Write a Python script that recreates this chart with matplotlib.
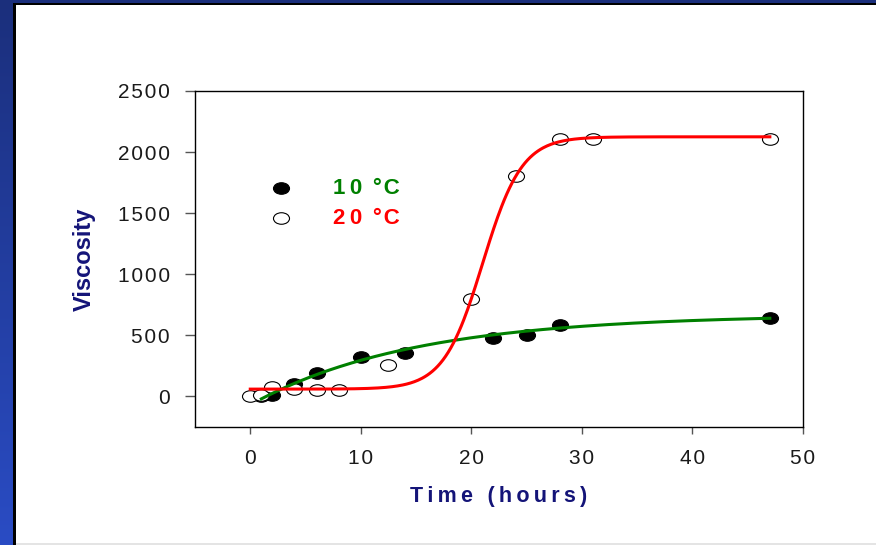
import numpy as np
import matplotlib
matplotlib.use("Agg")
import matplotlib.pyplot as plt
from matplotlib.path import Path
from matplotlib.transforms import Affine2D
from matplotlib.ticker import FuncFormatter

# Viscosity readings (hours, viscosity)
time_10c = [1, 2, 4, 6, 10, 14, 22, 25, 28, 47]
visc_10c = [0, 14, 100, 190, 325, 355, 480, 505, 585, 640]

time_20c = [0, 1, 2, 4, 6, 8, 12.5, 20, 24, 28, 31, 47]
visc_20c = [0, 12, 75, 60, 50, 50, 255, 800, 1805, 2110, 2110, 2110]

# fitted curves: exponential rise (10 C) and sigmoid (20 C)
fit_10c = dict(x_start=1, x_end=47, y0=-20, a=690, k=0.068)
fit_20c = dict(x_start=0, x_end=47, y0=60, a=2065, x0=21.03, w=1.77)

NAVY = "#141478"
FONT = "Liberation Sans"
HAIR = "\u200a"
THIN = "\u2009"
MS = 16 ** 2 * 0.52


def spaced(s, gap=HAIR):
    return gap.join(s)


def temp_label(t):
    return spaced(t, THIN) + " " + THIN + "°" + HAIR + "C"


# slightly flattened circle, as in the original artwork
oval = Path.unit_circle().transformed(Affine2D().scale(1.0, 0.72))

fig = plt.figure(figsize=(8.76, 5.45), dpi=100)

# slide frame: blue band on the left and top, thin black rule inside it
band = np.linspace(0, 1, 256).reshape(-1, 1)
frame = fig.add_axes([0, 0, 13 / 876, 1])
frame.imshow(band, aspect="auto", extent=[0, 1, 0, 1], origin="upper",
             cmap=matplotlib.colors.LinearSegmentedColormap.from_list(
                 "slide", ["#1b2f7c", "#2a4cc4"]))
frame.set_axis_off()
fig.add_artist(plt.Rectangle((13 / 876, 0), 3 / 876, 1, transform=fig.transFigure,
                             color="black", lw=0))
fig.add_artist(plt.Rectangle((0, 1 - 3 / 545), 1, 3 / 545, transform=fig.transFigure,
                             color="#1b2f7c", lw=0))
fig.add_artist(plt.Rectangle((13 / 876, 1 - 5 / 545), 1, 2 / 545, transform=fig.transFigure,
                             color="black", lw=0))
fig.add_artist(plt.Rectangle((16 / 876, 0), 1, 2 / 545, transform=fig.transFigure,
                             color="#e4e4e4", lw=0))

ax = fig.add_axes([195 / 876, 1 - 427 / 545, 608 / 876, 336 / 545])

ax.scatter(time_10c, visc_10c, marker=oval, s=MS, c="black",
           edgecolors="black", linewidths=0.8, zorder=2)
ax.scatter(time_20c, visc_20c, marker=oval, s=MS, c="white",
           edgecolors="black", linewidths=0.8, zorder=3)

xg = np.linspace(fit_10c["x_start"], fit_10c["x_end"], 300)
yg = fit_10c["y0"] + fit_10c["a"] * (1 - np.exp(-fit_10c["k"] * (xg - fit_10c["x_start"])))
ax.plot(xg, yg, color="#008000", lw=2.2, zorder=4)

xr = np.linspace(fit_20c["x_start"], fit_20c["x_end"], 400)
yr = fit_20c["y0"] + fit_20c["a"] / (1 + np.exp(-(xr - fit_20c["x0"]) / fit_20c["w"]))
ax.plot(xr, yr, color="#ff0000", lw=2.2, zorder=5)

ax.set_xlim(-5, 50)
ax.set_ylim(-250, 2500)
ax.set_xticks([0, 10, 20, 30, 40, 50])
ax.set_yticks([0, 500, 1000, 1500, 2000, 2500])
fmt = FuncFormatter(lambda v, pos: spaced(f"{v:g}"))
ax.xaxis.set_major_formatter(fmt)
ax.yaxis.set_major_formatter(fmt)
ax.tick_params(axis="y", direction="out", length=7, width=1, color="#555555",
               pad=11, labelsize=15, labelcolor="#1a1a1a")
ax.tick_params(axis="x", direction="out", length=5, width=1, color="#555555",
               pad=11, labelsize=15, labelcolor="#1a1a1a")
for lab in ax.get_xticklabels() + ax.get_yticklabels():
    lab.set_fontfamily(FONT)
for sp in ax.spines.values():
    sp.set_linewidth(1.0)
    sp.set_color("black")

ax.set_xlabel(spaced("Time (hours)", THIN), fontsize=15.5, fontweight="bold",
              color=NAVY, family=FONT, labelpad=13)
ax.set_ylabel("Viscosity", fontsize=17, fontweight="bold", color=NAVY,
              family=FONT, labelpad=16)

# key
ax.scatter([0.1414], [0.711], marker=oval, s=MS, c="black",
           edgecolors="black", linewidths=0.8, transform=ax.transAxes, clip_on=False)
ax.scatter([0.1414], [0.622], marker=oval, s=MS, c="white",
           edgecolors="black", linewidths=0.8, transform=ax.transAxes, clip_on=False)
ax.text(0.227, 0.711, temp_label("10"), color="#008000", fontsize=16,
        fontweight="bold", family=FONT, va="center", ha="left", transform=ax.transAxes)
ax.text(0.227, 0.622, temp_label("20"), color="#ff0000", fontsize=16,
        fontweight="bold", family=FONT, va="center", ha="left", transform=ax.transAxes)

fig.savefig("out.png", dpi=100)
